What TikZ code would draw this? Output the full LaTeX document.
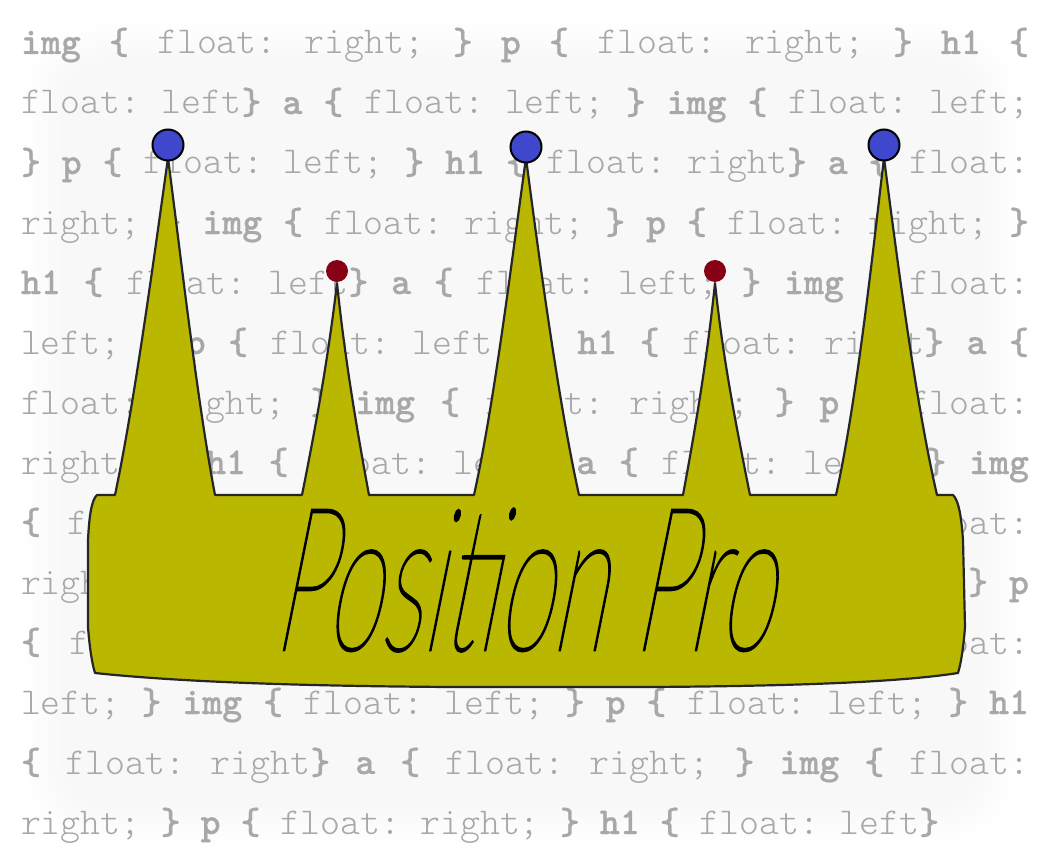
\documentclass[tikz,border=0pt]{standalone}
\usepackage{fontspec}
\newfontfamily\codefont[BoldFont={Latin Modern Mono Light/B},BoldFeatures={FakeBold=0.5}]{Latin Modern Mono Light}
\newfontfamily\handfont[FakeBold=1.3]{Lato Thin}
\definecolor{bgcol}{HTML}{F8F8F8}
\definecolor{codecol}{HTML}{A8A8A8}
\definecolor{crowncol}{HTML}{B9B700}
\definecolor{bluecol}{HTML}{3F48CC}
\definecolor{redcol}{HTML}{880015}
\newcommand{\K}[1]{\textbf{#1}}
\newcommand{\OB}{\textbf{\{}}
\newcommand{\CB}{\textbf{\}}}
\newcommand{\just}[1]{\hbox to 1008pt{\frenchspacing\spaceskip=20pt plus 1fil\relax #1}}
\newcommand{\nat}[1]{\hbox{\frenchspacing\spaceskip=20pt\relax #1}}
\tikzset{
  codeline/.style={anchor=base west,inner sep=0pt,outer sep=0pt,text=codecol,font=\codefont\fontsize{38}{38}\selectfont},
  bigjewel/.style={circle,draw=black,line width=2pt,fill=bluecol,minimum size=31pt,inner sep=0pt},
  smalljewel/.style={circle,fill=redcol,minimum size=22pt,inner sep=0pt},
  crownline/.style={draw=black!85,line width=2.2pt,fill=crowncol,line join=round}
}
\begin{document}
\begin{tikzpicture}[x=1pt,y=-1pt]
\useasboundingbox (0,0) rectangle (1053,864);
\fill[white] (0,0) rectangle (1053,864);
\foreach \i in {0,...,40}{
  \pgfmathsetmacro{\p}{100*\i/40}
  \pgfmathsetmacro{\r}{75-\i*0.8}
  \fill[bgcol!\p!white,rounded corners=\r pt] (22+\i,22+\i) rectangle (1018-\i,845-\i);
}
\node[codeline] (t1) at (21,54) {\just{\K{img} \OB{} float: right; \CB{} \K{p} \OB{} float: right; \CB{} \K{h1} \OB{}}};
\node[codeline] (t2) at (21,114) {\just{float: left\CB{} \K{a} \OB{} float: left; \CB{} \K{img} \OB{} float: left;}};
\node[codeline] (t3) at (21,174) {\just{\CB{} \K{p} \OB{} float: left; \CB{} \K{h1} \OB{} float: right\CB{} \K{a} \OB{} float:}};
\node[codeline] (t4) at (21,234) {\just{right; \CB{} \K{img} \OB{} float: right; \CB{} \K{p} \OB{} float: right; \CB{}}};
\node[codeline] (t5) at (21,294) {\just{\K{h1} \OB{} float: left\CB{} \K{a} \OB{} float: left; \CB{} \K{img} \OB{} float:}};
\node[codeline] (t6) at (21,354) {\just{left; \CB{} \K{p} \OB{} float: left; \CB{} \K{h1} \OB{} float: right\CB{} \K{a} \OB{}}};
\node[codeline] (t7) at (21,414) {\just{float: right; \CB{} \K{img} \OB{} float: right; \CB{} \K{p} \OB{} float:}};
\node[codeline] (t8) at (21,474) {\just{right; \CB{} \K{h1} \OB{} float: left\CB{} \K{a} \OB{} float: left; \CB{} \K{img}}};
\node[codeline] (t9) at (21,534) {\just{\OB{} float: left; \CB{} \K{p} \OB{} float: left; \CB{} \K{h1} \OB{} float:}};
\node[codeline] (t10) at (21,594) {\just{right\CB{} \K{a} \OB{} float: right; \CB{} \K{img} \OB{} float: right; \CB{} \K{p}}};
\node[codeline] (t11) at (21,654) {\just{\OB{} float: right; \CB{} \K{h1} \OB{} float: left\CB{} \K{a} \OB{} float:}};
\node[codeline] (t12) at (21,714) {\just{left; \CB{} \K{img} \OB{} float: left; \CB{} \K{p} \OB{} float: left; \CB{} \K{h1}}};
\node[codeline] (t13) at (21,774) {\just{\OB{} float: right\CB{} \K{a} \OB{} float: right; \CB{} \K{img} \OB{} float:}};
\node[codeline] (t14) at (21,834) {\nat{right; \CB{} \K{p} \OB{} float: right; \CB{} \K{h1} \OB{} float: left\CB{}}};
% crown
\path[crownline] (97,495) -- (115,495)
  .. controls (135,400) and (155,250) .. (168,158)
  .. controls (180,250) and (197,400) .. (215,495)
  -- (302,495)
  .. controls (315,430) and (328,360) .. (337,283)
  .. controls (345,360) and (357,430) .. (369,495)
  -- (474,495)
  .. controls (495,400) and (513,250) .. (526,158)
  .. controls (538,250) and (558,400) .. (579,495)
  -- (683,495)
  .. controls (695,430) and (707,360) .. (715,283)
  .. controls (723,360) and (737,430) .. (750,495)
  -- (836,495)
  .. controls (857,400) and (873,250) .. (884,158)
  .. controls (896,250) and (915,400) .. (937,495)
  -- (953,495)
  .. controls (958,500) and (961,512) .. (963,540)
  -- (965,627)
  .. controls (964,640) and (962,660) .. (958,673)
  .. controls (900,682) and (800,686) .. (650,687)
  -- (450,687)
  .. controls (300,686) and (180,682) .. (95,673)
  .. controls (91,660) and (89,640) .. (88,627)
  -- (88,540)
  .. controls (89,520) and (91,500) .. (97,495)
  -- cycle;
\node[bigjewel] (j1) at (168,145) {};
\node[bigjewel] (j2) at (526,147) {};
\node[bigjewel] (j3) at (884,145) {};
\node[smalljewel] (r1) at (337,271) {};
\node[smalljewel] (r2) at (715,271) {};
\node[transform shape,cm={0.495,0,0.2,1,(272,650)},anchor=base west,inner sep=0pt,font=\handfont\fontsize{200}{200}\selectfont,text=black] (title) at (0,0) {Position Pro};
\end{tikzpicture}
\end{document}
